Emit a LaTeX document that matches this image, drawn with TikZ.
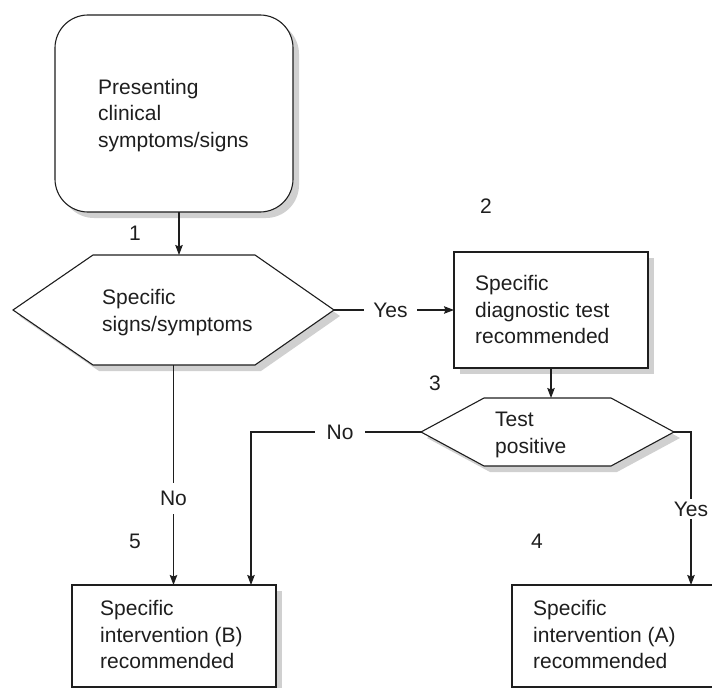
\documentclass[tikz,border=0pt]{standalone}
\usepackage{fontspec}
\setmainfont{Liberation Sans}
\usetikzlibrary{arrows.meta,calc}

\definecolor{ink}{HTML}{1E1E1E}
\definecolor{castgray}{HTML}{D0D0D0}

\tikzset{
  every picture/.style={x=1bp,y=-1bp},
  base font/.style={font=\fontsize{21bp}{26.5bp}\selectfont},
  txt/.style={base font, align=left, anchor=west, inner sep=0pt, text=ink},
  num/.style={base font, inner sep=0pt, text=ink},
  outline/.style={draw=ink, line width=1.1bp, fill=white},
  shadowed/.style={preaction={draw=none, fill=castgray,
      transform canvas={xshift=6bp, yshift=-6bp}}},
  box/.style={outline, shadowed, rectangle, inner sep=0pt, outer sep=0pt},
  roundbox/.style={box, rounded corners=33bp},
  hexarea/.style={rectangle, inner sep=0pt, outer sep=0pt},
  conn/.style={draw=ink, line width=1.1bp},
  arr/.style={conn, -{Stealth[length=10bp,width=7.5bp,inset=1.5bp]}},
  gaplabel/.style={base font, fill=white, text=ink, inner ysep=2bp, inner xsep=9bp},
}

\begin{document}
\begin{tikzpicture}
\useasboundingbox (0,0) rectangle (712,688);

% starting point
\node[roundbox, minimum width=238bp, minimum height=197bp] (top) at (174,113.5) {};
\node[txt] (top-t) at (98,115.2) {Presenting\\clinical\\symptoms/signs};

% first decision
\node[hexarea, minimum width=321bp, minimum height=110bp] (hex1) at (173.5,310) {};
\path[outline, shadowed] (hex1.west) -- ([xshift=80bp]hex1.north west)
  -- ([xshift=-79bp]hex1.north east) -- (hex1.east)
  -- ([xshift=-79bp]hex1.south east) -- ([xshift=80bp]hex1.south west) -- cycle;
\node[txt] (hex1-t) at (102,312.5) {Specific\\signs/symptoms};

% diagnostic test
\node[box, minimum width=194bp, minimum height=116bp] (test) at (551,310) {};
\node[txt] (test-t) at (475,309.6) {Specific\\diagnostic test\\recommended};

% second decision
\node[hexarea, minimum width=253bp, minimum height=68bp] (hex2) at (547.5,432) {};
\path[outline, shadowed] (hex2.west) -- ([xshift=63bp]hex2.north west)
  -- ([xshift=-63bp]hex2.north east) -- (hex2.east)
  -- ([xshift=-63bp]hex2.south east) -- ([xshift=63bp]hex2.south west) -- cycle;
\node[txt] (hex2-t) at (495,434.7) {Test\\positive};

% outcomes
\node[box, minimum width=204bp, minimum height=102bp] (intB) at (174,636) {};
\node[txt] (intB-t) at (100,634.8) {Specific\\intervention (B)\\recommended};

\node[box, minimum width=230bp, minimum height=102bp] (intA) at (627,636) {};
\node[txt] (intA-t) at (533,634.8) {Specific\\intervention (A)\\recommended};

% step numbers
\node[num] (n1) at (135,233) {1};
\node[num] (n2) at (486,206) {2};
\node[num] (n3) at (435,383) {3};
\node[num] (n4) at (537,541.7) {4};
\node[num] (n5) at (135,541.7) {5};

% connectors
\draw[arr] ([xshift=5bp]top.south) -- ([xshift=5bp]top.south |- hex1.north);
\draw[arr] (hex1.east) -- (test.west)
  node[gaplabel, pos=0.47] (yes1) {Yes};
\draw[arr] (test.south) -- (test.south |- hex2.north);
\draw[arr] (hex2.west) -| ([xshift=-25bp]intB.north east)
  node[gaplabel, pos=0.238, inner xsep=11.5bp] (no2) {No};
\draw[arr] (hex1.south) -- (hex1.south |- intB.north)
  node[gaplabel, pos=0.607, inner xsep=2bp, inner ysep=8bp] (no1) {No};
\draw[arr] (hex2.east) -| ([xshift=179bp]intA.north west)
  node[gaplabel, pos=0.752, inner xsep=1bp, inner ysep=3bp] (yes2) {Yes};
\end{tikzpicture}
\end{document}
